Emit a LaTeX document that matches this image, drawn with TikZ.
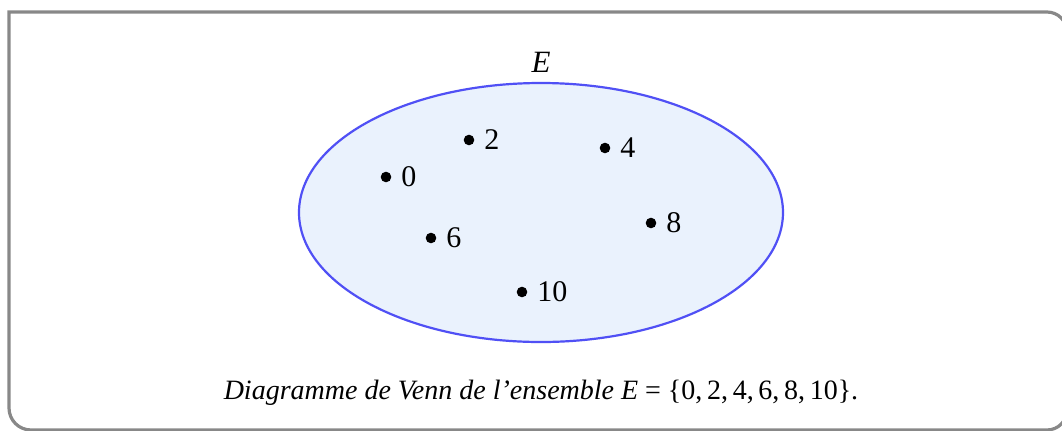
\documentclass[tikz,border=0pt]{standalone}
\usepackage{fontspec}
\setmainfont{Liberation Serif}
\usetikzlibrary{shapes.geometric}
\definecolor{setfill}{RGB}{234,242,253}
\definecolor{setline}{RGB}{80,80,245}
\definecolor{framec}{RGB}{136,136,136}
\begin{document}
\begin{tikzpicture}[x=0.5pt,y=-0.5pt,
  frame/.style={draw=framec,line width=1.6pt,line join=miter},
  setbox/.style={draw=setline,fill=setfill,line width=1.1pt},
  dot/.style={circle,fill=black,inner sep=0pt,minimum size=5.3pt},
  lbl/.style={anchor=west,inner sep=0pt,font=\fontsize{15}{18}\selectfont},
  txt/.style={font=\fontsize{14}{18}\selectfont}]
\useasboundingbox (0,0) rectangle (1062,430);
\draw[frame] (9,12) -- (1047,12) arc[start angle=-90,end angle=0,radius=20] -- (1067,410)
  arc[start angle=0,end angle=90,radius=20] -- (31,430)
  arc[start angle=90,end angle=180,radius=22] -- cycle;
\node[setbox,ellipse,minimum width=242pt,minimum height=129.5pt,inner sep=0pt] (E) at (541,212.5) {};
\node[lbl,font=\fontsize{15.5}{18}\selectfont,anchor=center] (El) at (541,62) {\textit{E}};
\node[dot] (d0) at (386,177) {};
\node[lbl] (l0) at (401,177) {0};
\node[dot] (d2) at (469,140) {};
\node[lbl] (l2) at (484,140) {2};
\node[dot] (d4) at (605,148) {};
\node[lbl] (l4) at (620,148) {4};
\node[dot] (d6) at (431,238) {};
\node[lbl] (l6) at (446,238) {6};
\node[dot] (d8) at (651,223) {};
\node[lbl] (l8) at (666,223) {8};
\node[dot] (d10) at (522,292) {};
\node[lbl] (l10) at (537,292) {10};
\node[txt] (cap) at (541,393) {\textit{Diagramme de Venn de l’ensemble E}~=~\{0,\,2,\,4,\,6,\,8,\,10\}.};
\end{tikzpicture}
\end{document}
